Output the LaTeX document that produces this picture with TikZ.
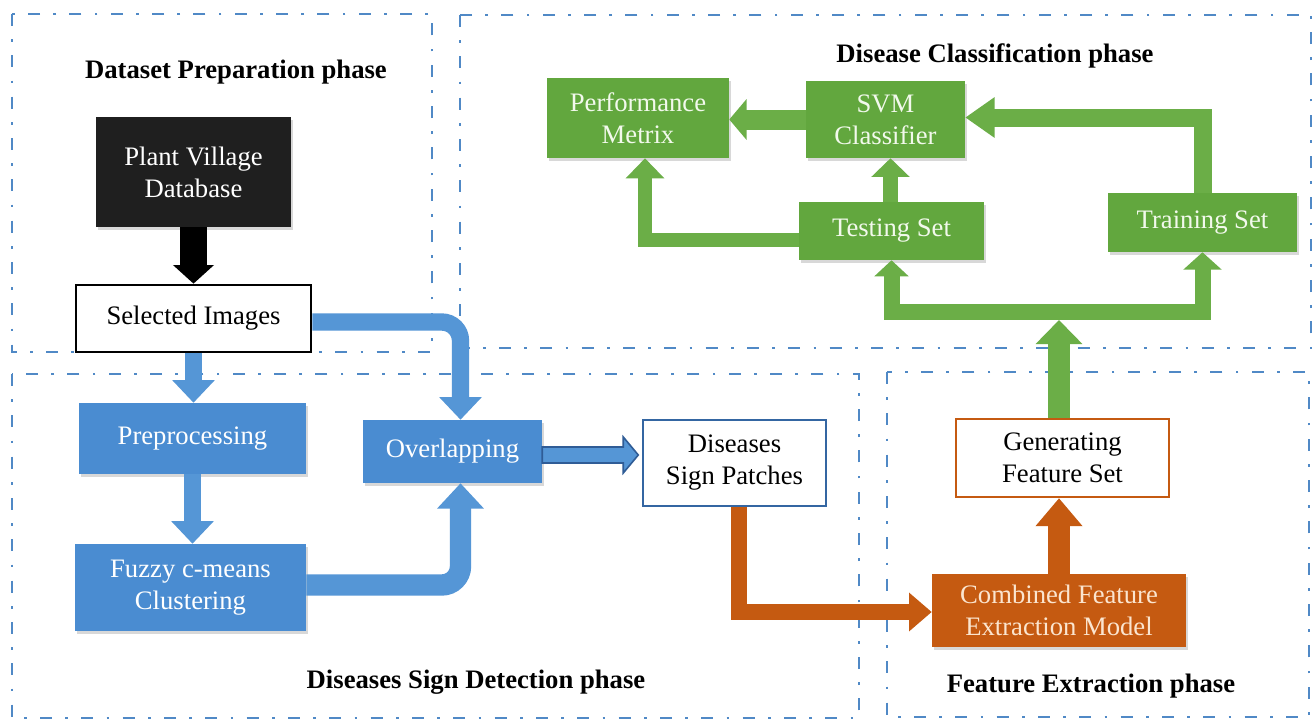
\documentclass[tikz,border=0pt]{standalone}
\usepackage{fontspec}
\setmainfont{Liberation Serif}
\usetikzlibrary{arrows.meta,shadows,calc}
\definecolor{phaseblue}{HTML}{5089C6}
\definecolor{boxblue}{HTML}{4A8CD1}
\definecolor{arrblue}{HTML}{5596D6}
\definecolor{darkblue}{HTML}{2F5C96}
\definecolor{boxgreen}{HTML}{62A73E}
\definecolor{arrgreen}{HTML}{6BAE47}
\definecolor{boxorange}{HTML}{C55A11}
\definecolor{boxblack}{HTML}{1F1F1F}
\definecolor{gtext}{HTML}{F2F9EC}
\definecolor{otext}{HTML}{FBE5CF}
\tikzset{
  phase/.style={draw=phaseblue, line width=2pt, dash pattern=on 9pt off 10pt on 2pt off 10pt},
  ttl/.style={anchor=base, font=\fontsize{20}{24}\selectfont\bfseries},
  fbox/.style={inner sep=0pt, align=center, font=\fontsize{20}{24}\selectfont},
  shad/.style={drop shadow={shadow xshift=1.5pt, shadow yshift=-2.5pt, opacity=0.3}},
  bluebox/.style={fbox, shad, fill=boxblue, text=white},
  greenbox/.style={fbox, shad, fill=boxgreen, text=gtext},
  orangebox/.style={fbox, shad, fill=boxorange, text=otext},
  blackbox/.style={fbox, shad, fill=boxblack, text=white},
  karrow/.style={draw=black, line width=20pt, -{Triangle[width=30pt,length=14pt]}},
  barrow/.style={draw=arrblue, line width=13pt, -{Triangle[width=31pt,length=17pt]}},
  garrow/.style={draw=arrgreen, line width=12pt, -{Triangle[width=29pt,length=15pt]}},
  oarrow/.style={draw=boxorange, line width=11.5pt, -{Triangle[width=28pt,length=17pt]}},
}
\begin{document}
\begin{tikzpicture}[x=0.75pt,y=-0.75pt]
\useasboundingbox (0,0) rectangle (1315,722);
\fill[white] (0,0) rectangle (1315,722);

% phase frames
\draw[phase] (12,14) rectangle (432,352);
\draw[phase] (460,15) rectangle (1311,348);
\draw[phase] (12,374) rectangle (859,718);
\draw[phase] (887,372) rectangle (1309,717);

% titles
\node[ttl] (t1) at (236,78) {Dataset Preparation phase};
\node[ttl] (t2) at (995,62) {Disease Classification phase};
\node[ttl] (t3) at (476,688) {Diseases Sign Detection phase};
\node[ttl] (t4) at (1091,692) {Feature Extraction phase};

% nodes
\node[blackbox, minimum width=146.25pt, minimum height=82.5pt] (plant) at (193.5,172) {Plant Village\\Database};
\node[fbox, draw=black, line width=2pt, fill=white, minimum width=176.25pt, minimum height=50.25pt] (sel) at (193.5,318.5) {Selected Images};
\node[bluebox, minimum width=170.25pt, minimum height=53.25pt] (pre) at (192.5,438.5) {Preprocessing};
\node[bluebox, minimum width=173.25pt, minimum height=65.25pt] (fuz) at (190.5,587.5) {Fuzzy c-means\\Clustering};
\node[bluebox, minimum width=134.25pt, minimum height=47.25pt] (ovl) at (452.5,451.5) {Overlapping};
\node[fbox, draw=darkblue!80!boxblue, line width=1.6pt, fill=white, minimum width=137.25pt, minimum height=64.5pt] (dsp) at (734.5,463) {Diseases\\Sign Patches};
\node[fbox, draw=boxorange, line width=1.8pt, fill=white, minimum width=159.75pt, minimum height=58.5pt] (gfs) at (1062.5,458) {Generating\\Feature Set};
\node[orangebox, minimum width=190.5pt, minimum height=54.75pt] (cfe) at (1059,610.5) {Combined Feature\\Extraction Model};
\node[greenbox, minimum width=136.5pt, minimum height=60pt] (perf) at (638,118) {Performance\\Metrix};
\node[greenbox, minimum width=119.25pt, minimum height=57.75pt] (svm) at (885.5,119.5) {SVM\\Classifier};
\node[greenbox, minimum width=138.75pt, minimum height=43.5pt] (test) at (891.5,231) {Testing Set};
\node[greenbox, minimum width=141.75pt, minimum height=44.25pt] (train) at (1202.5,222.5) {Training Set};

% dataset phase
\draw[karrow] (plant.south) -- (sel.north);

% detection phase
\draw[barrow] (sel.south) -- (sel.south |- pre.north);
\draw[barrow] (pre.south) -- (pre.south |- fuz.north);
\draw[barrow, rounded corners=14pt] ($(sel.east)+(0,3.5)$) -| ($(ovl.north)+(8,0)$);
\draw[barrow, line width=16pt, -{Triangle[width=34pt,length=19pt]}, rounded corners=14pt] ($(fuz.east)+(0,-2.5)$) -| ($(ovl.south)+(8,0)$);
\filldraw[fill=arrblue, draw=darkblue, line width=1.2pt, line join=miter]
  (ovl.east) ++(0,-4.5) -- ++(81,0) -- ++(0,-10) -- ++(15,18) -- ++(-15,18) -- ++(0,-10) -- ++(-81,0) -- cycle;

% feature extraction phase
\draw[oarrow] ($(dsp.south)+(4.5,0)$) |- ($(cfe.west)+(0,1.5)$);
\draw[oarrow, line width=17pt, -{Triangle[width=34pt,length=21pt]}] (cfe.north) -- (cfe.north |- gfs.south);

% classification phase
\coordinate (bus) at (1059,312);
\draw[garrow, line width=16pt, -{Triangle[width=34pt,length=18pt]}] (cfe.north |- gfs.north) -- ($(bus)+(0,8)$);
\draw[garrow, line width=12pt, -{Triangle[width=25pt,length=12pt]}] (bus) -| (test.south);
\draw[garrow, line width=12pt, -{Triangle[width=28pt,length=13pt]}] (bus) -| (train.south);
\draw[garrow, line width=13.5pt, -{Triangle[width=29pt,length=22pt]}] (train.north) |- ($(svm.east)+(0,-2)$);
\draw[garrow, line width=11pt, -{Triangle[width=28pt,length=14pt]}] ($(test.north)+(-1,0)$) -- ($(test.north |- svm.south)+(-1,0)$);
\draw[garrow, line width=15pt, -{Triangle[width=30pt,length=13pt]}] (svm.west) -- (svm.west -| perf.east);
\draw[garrow, line width=11pt, -{Triangle[width=28pt,length=15pt]}] ($(test.west)+(0,9)$) -| ($(perf.south)+(7,0)$);
\end{tikzpicture}
\end{document}
